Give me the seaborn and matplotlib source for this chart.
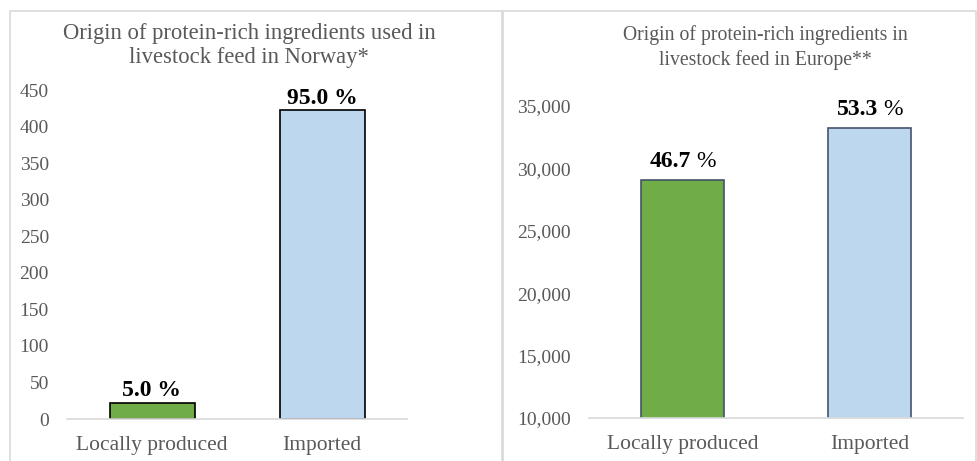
import matplotlib
matplotlib.use("Agg")
import matplotlib.pyplot as plt
from matplotlib.patches import Rectangle
from matplotlib.ticker import FuncFormatter
import seaborn as sns
import pandas as pd

# Data
categories = ["Locally produced", "Imported"]
norway_values = [22.2, 422.0]
europe_values = [29100, 33200]
norway_title = ["Origin of protein-rich ingredients used in", "livestock feed in Norway*"]
europe_title = ["Origin of protein-rich ingredients in", "livestock feed in Europe**"]
norway_ticks = list(range(0, 451, 50))
europe_ticks = list(range(10000, 35001, 5000))

bar_colors = ["#70ad47", "#bdd7ee"]
text_gray = "#595959"
line_gray = "#d9d9d9"
serif = ["Liberation Serif", "DejaVu Serif"]

sns.set_theme(style="white")
plt.rcParams["font.family"] = serif

W, H = 977, 461
fig = plt.figure(figsize=(W / 100, H / 100), dpi=100)


def px_axes(x0, x1, ytop, ybot):
    return fig.add_axes([x0 / W, 1 - ybot / H, (x1 - x0) / W, (ybot - ytop) / H])


# panel frames
for (x0, x1) in [(10, 502), (503, 976)]:
    fig.patches.append(Rectangle((x0 / W, -0.1), (x1 - x0) / W, 1.1 - 11 / H,
                                 transform=fig.transFigure, fill=False,
                                 edgecolor=line_gray, linewidth=1.2))


def draw_panel(ax, values, ticks, ylim, width, edge, fmt):
    df = pd.DataFrame({"cat": categories, "val": values})
    sns.barplot(data=df, x="cat", y="val", hue="cat", palette=bar_colors,
                legend=False, width=width, edgecolor=edge, linewidth=1.2,
                saturation=1, ax=ax)
    ax.set_xlim(-0.5, 1.5)
    ax.set_ylim(*ylim)
    ax.set_yticks(ticks)
    ax.yaxis.set_major_formatter(FuncFormatter(fmt))
    ax.set_xlabel("")
    ax.set_ylabel("")
    for s in ["top", "right", "left"]:
        ax.spines[s].set_visible(False)
    ax.spines["bottom"].set_color(line_gray)
    ax.spines["bottom"].set_linewidth(1.2)
    ax.tick_params(axis="both", length=0, colors=text_gray)
    ax.tick_params(axis="x", labelsize=15.5, pad=12)
    ax.tick_params(axis="y", labelsize=14, pad=13)
    ax.set_facecolor("none")


def draw_title(lines, xc, ys, size):
    for line, y in zip(lines, ys):
        fig.text(xc / W, 1 - y / H, line, ha="center", va="center",
                 fontsize=size, color=text_gray)


# Norway panel
ax1 = px_axes(67, 407, 90, 419)
draw_panel(ax1, norway_values, norway_ticks, (0, 450), 0.5, "black",
           lambda v, p: f"{v:.0f}")
tot1 = sum(norway_values)
for i, v in enumerate(norway_values):
    ax1.annotate(f"{v / tot1 * 100:.1f} %", (i, v), xytext=(0, 1),
                 textcoords="offset points", ha="center", va="bottom",
                 fontsize=17, fontweight="bold", color="black")
draw_title(norway_title, 249, [33, 58], 16.25)

# Europe panel
ax2 = px_axes(589, 963, 106, 418)
draw_panel(ax2, europe_values, europe_ticks, (10000, 35000), 0.44, "#44546a",
           lambda v, p: f"{v:,.0f}")
tot2 = sum(europe_values)
fig.canvas.draw()
renderer = fig.canvas.get_renderer()
gap = 5
for i, v in enumerate(europe_values):
    num = fig.text(0, 0, f"{v / tot2 * 100:.1f}", ha="left", va="bottom",
                   fontsize=17, fontweight="bold", color="black")
    pct = fig.text(0, 0, "%", ha="left", va="bottom", fontsize=17, color="black")
    wn = num.get_window_extent(renderer).width
    wp = pct.get_window_extent(renderer).width
    xc, ytop = ax2.transData.transform((i, v))
    x0 = xc - (wn + gap + wp) / 2
    yb = ytop + 8
    num.set_position((x0 / W, yb / H))
    pct.set_position(((x0 + wn + gap) / W, yb / H))
draw_title(europe_title, 765, [35, 60], 14.25)

fig.savefig("out.png", dpi=100)
